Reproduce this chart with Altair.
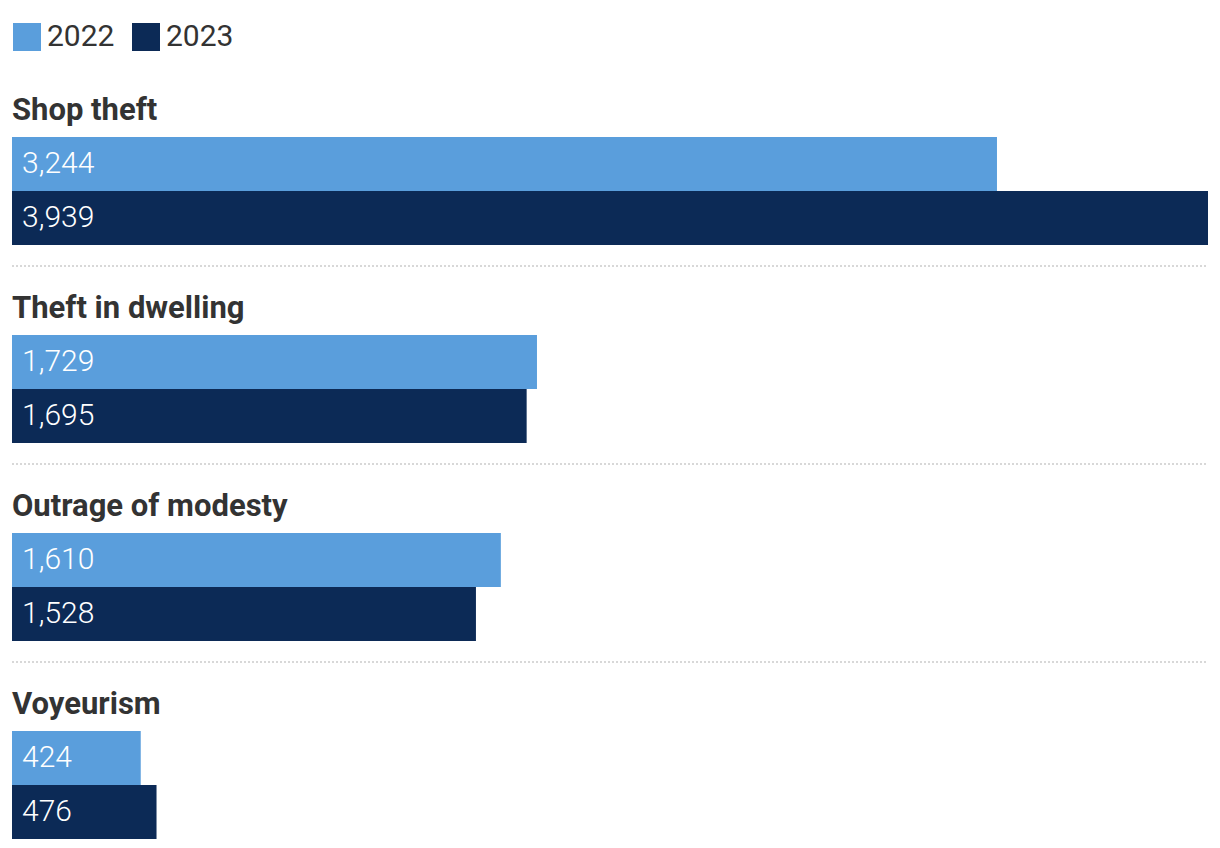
import altair as alt
import pandas as pd

categories = ["Shop theft", "Theft in dwelling", "Outrage of modesty", "Voyeurism"]
years = ["2022", "2023"]
values_2022 = [3244, 1729, 1610, 424]
values_2023 = [3939, 1695, 1528, 476]

rows = []
for c, v22, v23 in zip(categories, values_2022, values_2023):
    rows.append({"category": c, "year": "2022", "value": v22})
    rows.append({"category": c, "year": "2023", "value": v23})
df = pd.DataFrame(rows)

W = 1196
H = 108

x_scale = alt.Scale(domain=[0, 3939], range=[0, W], nice=False, zero=True)
y_scale = alt.Scale(domain=years, paddingInner=0, paddingOuter=0)
color_scale = alt.Scale(domain=years, range=["#5A9EDC", "#0C2A56"])

bars = alt.Chart().mark_bar(cornerRadius=0).encode(
    x=alt.X("value:Q", scale=x_scale, axis=None),
    y=alt.Y("year:N", scale=y_scale, axis=None),
    color=alt.Color(
        "year:N",
        scale=color_scale,
        legend=alt.Legend(
            title=None,
            orient="top",
            direction="horizontal",
            symbolType="square",
            symbolSize=784,
            symbolStrokeWidth=0,
            labelFontSize=30,
            labelFont="Roboto",
            labelColor="#333333",
            labelOffset=5,
            columnPadding=16,
            offset=43,
        ),
    ),
)

labels = alt.Chart().mark_text(
    align="left", baseline="middle", color="white", fontSize=30,
    font="Roboto", fontWeight=300, dx=10
).encode(
    x=alt.value(0),
    y=alt.Y("year:N", scale=y_scale, axis=None),
    text=alt.Text("value:Q", format=","),
)

seps = alt.Chart().transform_filter(
    alt.datum.category != categories[-1]
).transform_aggregate(
    n="count()", groupby=["category"]
).mark_rule(color="#cccccc", strokeDash=[2, 2], strokeWidth=1.5).encode(
    x=alt.value(0), x2=alt.value(W), y=alt.value(H + 21)
)

chart = alt.layer(bars, labels, seps, data=df).properties(
    width=W, height=H
).facet(
    row=alt.Facet(
        "category:N",
        sort=categories,
        title=None,
        header=alt.Header(
            labelOrient="top",
            labelAnchor="start",
            labelAlign="left",
            labelFontSize=31,
            labelFontWeight="bold",
            labelFont="Roboto",
            labelColor="#333333",
            labelPadding=10,
        ),
    ),
    spacing=26,
).properties(
    padding={"left": 3, "top": 14, "right": 0, "bottom": 0}
).configure_view(stroke=None)

chart.save("out.html", embed_options={"renderer": "svg", "actions": False})
